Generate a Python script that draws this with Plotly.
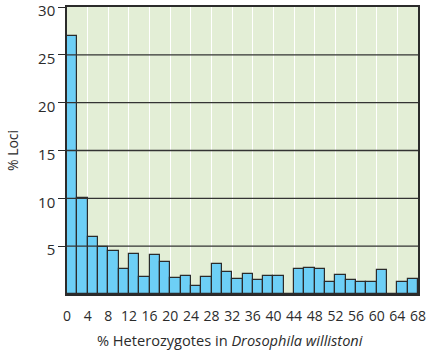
import plotly.graph_objects as go

# bin lower edges (% heterozygotes), each bin is 2 % wide
bin_starts = list(range(0, 68, 2))
pct_loci = [27, 10, 6.0, 4.95, 4.5, 2.6, 4.2, 1.75, 4.1, 3.3,
            1.7, 1.85, 0.8, 1.8, 3.15, 2.3, 1.55, 2.05, 1.45, 1.85,
            1.9, 0, 2.6, 2.7, 2.6, 1.3, 2.0, 1.45, 1.25, 1.25,
            2.5, 0, 1.3, 1.6]
bin_width = 2
x_ticks = list(range(0, 69, 4))
y_ticks = [5, 10, 15, 20, 25, 30]
x_title = "% Heterozygotes in <i>Drosophila willistoni</i>"
y_title = "% Loci"

fig = go.Figure()
fig.add_trace(go.Bar(
    x=[b + bin_width / 2 for b in bin_starts],
    y=pct_loci,
    width=bin_width,
    marker=dict(color="#6dcff6", line=dict(color="#2b2b2b", width=1.2)),
    showlegend=False,
))

# horizontal grid lines drawn above the bars
for v in y_ticks[:-1]:
    fig.add_shape(type="line", xref="paper", yref="y", x0=0, x1=1, y0=v, y1=v,
                  line=dict(color="#333333", width=1.3), layer="above")

# x-axis title (slightly left of centre, as in the original)
fig.add_annotation(text=x_title, xref="paper", yref="paper", x=0.464, y=0,
                   yshift=-46, showarrow=False, xanchor="center", yanchor="middle",
                   font=dict(size=14.6))

font = dict(family="Open Sans, sans-serif", size=14, color="#2b2b2b")
fig.update_layout(
    width=436, height=352,
    margin=dict(l=67, r=18, t=7, b=58),
    paper_bgcolor="white",
    plot_bgcolor="#e3eed6",
    font=font,
    bargap=0,
    xaxis=dict(
        range=[0, 68], tickvals=x_ticks, ticktext=[str(t) for t in x_ticks],
        automargin=False,
        showgrid=True, gridcolor="white", gridwidth=1.2,
        showline=True, linecolor="#2b2b2b", linewidth=1.5, mirror=True,
        ticks="", ticklen=0, zeroline=False,
        tickfont=dict(size=14), ticklabelstandoff=8,
    ),
    yaxis=dict(
        range=[0, 30], tickvals=y_ticks, ticktext=[str(t) for t in y_ticks],
        automargin=False,
        showgrid=False, zeroline=False,
        showline=True, linecolor="#2b2b2b", linewidth=1.5, mirror=True,
        ticks="outside", ticklen=7, tickcolor="#2b2b2b", tickwidth=1.3,
        tickfont=dict(size=15), ticklabelshift=4,
        title=dict(text=y_title, font=dict(size=14), standoff=16),
    ),
)

fig.write_html("out.html", config={"displayModeBar": False},
               post_script="document.body.style.margin='0';document.body.style.padding='0';")
